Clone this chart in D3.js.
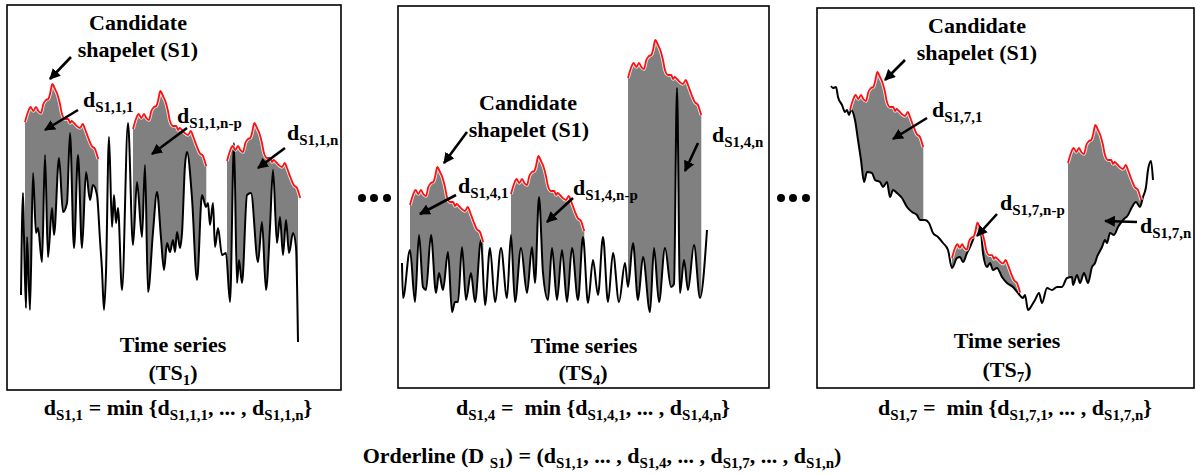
<!DOCTYPE html>
<html><head><meta charset="utf-8">
<script src="https://cdn.jsdelivr.net/npm/d3@7"></script>
<style>
body{margin:0;background:#fff}
svg{display:block}
text{font-family:"Liberation Serif","Times New Roman",serif;font-weight:bold;fill:#000;white-space:pre}
</style>
</head><body><svg id="c" width="1196" height="475"></svg>
<script>
// ---------------- DATA ----------------
// candidate shapelet S1: time offsets and values (relative to its first point)
const shapeT = [0,3.3,5.7,8.3,11,13.3,16,18.3,21,23.3,25,27.3,30,32.3,35,36.7,40,43.3,45,46.7,49,51.7,55,57.7,60,63.3,66.7,70,71.7,73.3];
const shapeV = [0,11,15,11,15,11,9,18,22,23,28,38,33,28,18,9,3,3,-1,1,-1,-4,-6,-2,-7,-16,-24,-27,-32,-37];

// time series TS1
const ts1T = [14,16,17,19,20,23,26,29,31,35,38,41,45,47,52,56,60,63,67,71,75,79,83,86,90,93,95,97,99,102,105,107,109,111,115,121,126,130,135,138,141,146,150,154,157,160,163,166,168,170,173,175,178,180,185,190,195,199,201,203,206,208,211,215,219,223,227,230,232,235,240,244,251,255,259,263,266,270,273,276,279,282,286,289,291];
const ts1V = [95,197,153,82,153,80,217,157,162,128,235,133,182,155,232,178,187,257,142,235,142,218,190,205,195,150,120,80,118,253,163,195,167,182,100,267,145,208,153,225,98,158,198,152,120,147,138,150,138,158,142,157,225,238,192,110,195,183,187,165,187,143,162,135,137,88,247,107,130,107,195,197,128,168,100,163,220,147,173,135,170,137,157,143,48];

// time series TS4
const ts2T = [4,5,12,17,21,25,28,33,38,41,45,50,54,57,60,64,68,73,77,83,87,92,97,103,109,113,117,123,129,134,137,141,145,150,154,159,164,169,174,180,185,190,195,200,205,210,215,221,227,230,235,240,245,252,256,261,267,273,276,279,282,286,290,296,302,309];
const ts2V = [125,90,138,86,153,101,98,153,95,115,98,136,76,86,86,141,88,115,86,148,83,140,86,140,90,153,86,140,95,141,105,191,115,88,140,88,138,86,140,88,151,85,128,93,151,86,135,86,125,101,145,88,131,76,140,86,140,101,104,300,95,128,98,143,90,158];

// time series TS7
const ts3T = [14,16,19,21,25,28,30,32,34,38,41,44,47,50,55,58,63,66,70,73,76,80,85,90,95,100,103,108,112,116,121,126,131,135,140,143,146,150,153,157,159,161,164,166,170,173,176,180,185,190,196,201,206,208,211,215,218,222,225,230,235,240,245,250,255,256,260,263,267,271,275,278,280,285,288,290,293,297,301,306,311,315,319,323,326,329,331,334,336];
const ts3V = [302,300,301,291,283,276,278,273,278,268,248,228,206,216,215,208,206,201,206,191,198,195,190,181,176,173,168,168,165,155,151,145,138,120,130,131,126,135,141,151,158,161,155,135,121,125,118,120,111,105,101,95,90,93,78,83,88,95,85,100,98,101,101,110,111,103,113,105,115,105,121,125,131,141,148,145,155,153,161,168,173,181,186,181,191,201,218,227,208];

// shapelet placements in each series: [start time, start value, scale]
const place1 = [[18,268,1],[126,261,1],[220,229,1]];
const place2 = [[12,183,1],[113,194,1],[230,310,1]];
const place3 = [[33,278,1],[135,130,0.93],[251,225,1]];

// ---------------- LAYOUT ----------------
const svg = d3.select('#c');
const FILL = '#808080';

const defs = svg.append('defs');
defs.append('marker').attr('id','ah').attr('viewBox','0 0 10 10')
  .attr('refX',9).attr('refY',5).attr('markerWidth',11).attr('markerHeight',11)
  .attr('markerUnits','userSpaceOnUse').attr('orient','auto')
  .append('path').attr('d','M0,0 L10,5 L0,10 Z').attr('fill','#000');

const panels = [
  {left:7,   top:5, right:341,  bottom:390, t:ts1T, v:ts1V, place:place1},
  {left:398, top:6, right:769,  bottom:388, t:ts2T, v:ts2V, place:place2},
  {left:817, top:8, right:1194, bottom:388, t:ts3T, v:ts3V, place:place3}
];

panels.forEach((p,k)=>{
  const g = svg.append('g');
  const x = d3.scaleLinear().domain([0,p.right-p.left]).range([p.left,p.right]);
  const y = d3.scaleLinear().domain([0,p.bottom-p.top]).range([p.bottom,p.top]);
  const pts = p.t.map((d,i)=>[d,p.v[i]]);
  // clip: region above the series
  defs.append('clipPath').attr('id','above'+k).append('path')
    .attr('d', d3.area().x(d=>x(d[0])).y0(p.top).y1(d=>y(d[1])).curve(d3.curveMonotoneX)(pts));
  const shapes = p.place.map(s=>shapeT.map((tt,i)=>[s[0]+tt*s[2], s[1]+shapeV[i]*s[2]]));
  shapes.forEach(sp=>{
    g.append('path').attr('clip-path','url(#above'+k+')')
      .attr('d', d3.area().x(d=>x(d[0])).y0(p.bottom).y1(d=>y(d[1])).curve(d3.curveMonotoneX)(sp))
      .attr('fill',FILL);
  });
  g.append('path').attr('d', d3.line().x(d=>x(d[0])).y(d=>y(d[1])).curve(d3.curveMonotoneX)(pts))
    .attr('fill','none').attr('stroke','#000').attr('stroke-width',2).attr('stroke-linejoin','round');
  shapes.forEach(sp=>{
    const ln = d3.line().x(d=>x(d[0])).y(d=>y(d[1])).curve(d3.curveMonotoneX);
    g.append('path').attr('d', ln(sp)).attr('fill','none').attr('stroke','#fff').attr('stroke-width',3.6).attr('opacity',0.8);
    g.append('path').attr('d', ln(sp)).attr('fill','none').attr('stroke','#ff1010').attr('stroke-width',1.8);
  });
  g.append('rect').attr('x',p.left).attr('y',p.top).attr('width',p.right-p.left).attr('height',p.bottom-p.top)
    .attr('fill','none').attr('stroke','#000').attr('stroke-width',1.6);
});

// text helpers
function rich(xp, yp, parts, main, sub, anchor){
  const t = svg.append('text').attr('x',xp).attr('y',yp).attr('text-anchor',anchor||'start').attr('font-size',main);
  let low=false;
  parts.forEach(pr=>{
    const s = t.append('tspan').text(pr[0]);
    if(pr[1] && !low){ s.attr('dy',5).attr('font-size',sub); low=true; }
    else if(pr[1]){ s.attr('font-size',sub); }
    else if(!pr[1] && low){ s.attr('dy',-5); low=false; }
  });
  return t;
}
function plain(xp,yp,s,size){ svg.append('text').attr('x',xp).attr('y',yp).attr('text-anchor','middle').attr('font-size',size).text(s); }
function arrow(x1,y1,x2,y2){
  svg.append('line').attr('x1',x1).attr('y1',y1).attr('x2',x2).attr('y2',y2)
    .attr('stroke','#000').attr('stroke-width',2.6).attr('marker-end','url(#ah)');
}

const SUB = 15;
// panel 1
plain(138,30,'Candidate',22); plain(138,57,'shapelet (S1)',22);
arrow(71,57,50,79);
rich(83,107,[['d'],['S1,1,1',1]],22,SUB); arrow(78,110,45,130);
rich(177,123,[['d'],['S1,1,n-p',1]],22,SUB); arrow(187,128,152,154);
rich(287,140,[['d'],['S1,1,n',1]],22,SUB); arrow(285,148,258,168);
plain(173,352,'Time series',22);
rich(173,380,[['(TS'],['1',1],[')']],22,SUB,'middle');

// panel 2
plain(528,110,'Candidate',22); plain(529,137,'shapelet (S1)',22);
arrow(467,132,444,163);
rich(458,193,[['d'],['S1,4,1',1]],22,SUB); arrow(456,195,420,214);
rich(573,195,[['d'],['S1,4,n-p',1]],22,SUB); arrow(573,198,547,222);
rich(712,142,[['d'],['S1,4,n',1]],22,SUB); arrow(698,143,685,171);
plain(584,353,'Time series',22);
rich(583,380,[['(TS'],['4',1],[')']],22,SUB,'middle');

// panel 3
plain(977,33,'Candidate',22); plain(977,60,'shapelet (S1)',22);
arrow(905,60,885,80);
rich(932,117,[['d'],['S1,7,1',1]],22,SUB); arrow(927,118,893,139);
rich(1000,210,[['d'],['S1,7,n-p',1]],22,SUB); arrow(997,214,977,236);
rich(1140,233,[['d'],['S1,7,n',1]],22,SUB); arrow(1137,222,1105,221);
plain(1007,348,'Time series',22);
rich(1007,377,[['(TS'],['7',1],[')']],22,SUB,'middle');

// ellipses between panels
[[362,374,387],[781,793,806]].forEach(xs=>xs.forEach(cx=>svg.append('circle').attr('cx',cx).attr('cy',198).attr('r',4).attr('fill','#000')));

// formulas
rich(178,415,[['d'],['S1,1',1],[' = min {d'],['S1,1,1',1],[', ... , d'],['S1,1,n',1],['}']],22,SUB,'middle');
rich(593,415,[['d'],['S1,4',1],[' =  min {d'],['S1,4,1',1],[', ... , d'],['S1,4,n',1],['}']],22,SUB,'middle');
rich(1015,415,[['d'],['S1,7',1],[' =  min {d'],['S1,7,1',1],[', ... , d'],['S1,7,n',1],['}']],22,SUB,'middle');
rich(602,463,[['Orderline (D '],['S1',1],[') = (d'],['S1,1',1],[', ... , d'],['S1,4',1],[', ... , d'],['S1,7',1],[', ... , d'],['S1,n',1],[')']],22,SUB,'middle');
</script></body></html>
